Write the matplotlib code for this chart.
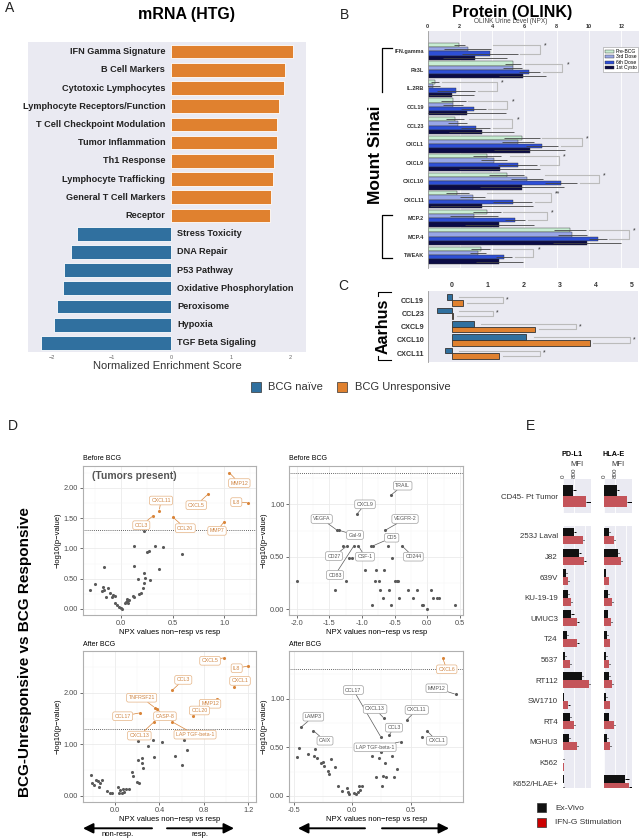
import matplotlib
matplotlib.use('Agg')
import matplotlib.pyplot as plt
from matplotlib.patches import Rectangle, ArrowStyle
from matplotlib.ticker import AutoMinorLocator, FormatStrFormatter
import numpy as np

plt.rcParams['font.family'] = ['Liberation Sans', 'DejaVu Sans']
plt.rcParams['axes.unicode_minus'] = True

# ---------------- DATA ----------------
# Panel A
A_terms = ['IFN Gamma Signature', 'B Cell Markers', 'Cytotoxic Lymphocytes',
           'Lymphocyte Receptors/Function', 'T Cell Checkpoint Modulation',
           'Tumor Inflammation', 'Th1 Response', 'Lymphocyte Trafficking',
           'General T Cell Markers', 'Receptor', 'Stress Toxicity', 'DNA Repair',
           'P53 Pathway', 'Oxidative Phosphorylation', 'Peroxisome', 'Hypoxia',
           'TGF Beta Sigaling']
A_nes = [2.05, 1.91, 1.89, 1.81, 1.78, 1.78, 1.73, 1.71, 1.68, 1.66,
         -1.58, -1.68, -1.79, -1.82, -1.92, -1.97, -2.18]

# Panel B
B_cats = ['IFN.gamma', 'Flt3L', 'IL.2RB', 'CCL19', 'CCL23', 'CXCL1', 'CXCL9',
          'CXCL10', 'CXCL11', 'MCP.2', 'MCP.4', 'TWEAK']
B_pre = [1.97, 5.32, 0.48, 1.61, 1.68, 5.84, 3.66, 4.91, 1.84, 3.66, 8.82, 3.29]
B_d3 = [2.48, 5.28, 0.35, 1.59, 1.86, 5.59, 4.14, 6.15, 2.80, 2.88, 8.96, 3.15]
B_d6 = [3.87, 6.31, 1.76, 2.86, 2.98, 7.10, 5.59, 8.28, 5.28, 5.42, 10.56, 4.74]
B_cy = [2.94, 5.90, 1.51, 2.44, 3.35, 6.34, 4.47, 5.86, 3.35, 4.45, 9.88, 4.45]
B_pre_err = [0.35, 0.5, 0.25, 0.77, 0.55, 1.1, 0.87, 1.07, 0.7, 0.87, 1.0, 0.6]
B_d3_err = [1.43, 0.6, 0.4, 0.6, 0.56, 1.0, 0.8, 1.0, 0.76, 1.5, 0.9, 0.5]
B_d6_err = [1.72, 0.67, 1.2, 0.76, 0.9, 1.0, 1.2, 1.0, 1.2, 0.63, 0.56, 0.5]
B_cy_err = [1.97, 1.45, 1.4, 2.4, 2.0, 2.2, 2.5, 2.6, 3.2, 2.15, 2.1, 1.45]
B_sig_x = [6.94, 8.36, 4.29, 4.95, 5.26, 9.54, 8.14, 10.62, 7.62, 7.39, 12.46, 6.56]
B_sig = ['*', '*', '*', '*', '*', '*', '*', '*', '**', '*', '*', '*']
B_series = ['Pre-BCG', '3rd Dose', '6th Dose', '1st Cysto']

# Panel C
C_cats = ['CCL19', 'CCL23', 'CXCL9', 'CXCL10', 'CXCL11']
C_naive = [-0.14, -0.42, 0.60, 2.07, -0.20]
C_unresp = [0.32, 0.03, 2.32, 3.83, 1.32]
C_sig_x = [1.43, 1.14, 3.44, 4.94, 2.44]

# Panel D1 (before BCG, tumors present)
D1_gx = [-0.293, -0.248, -0.158, -0.183, -0.161, -0.168, -0.142, -0.12, -0.103, -0.071,
         -0.055, -0.081, -0.055, -0.033, -0.013, 0.0, 0.01, 0.041, 0.051, 0.064, 0.073,
         0.116, 0.128, 0.179, 0.193, 0.218, 0.228, 0.237, 0.17, 0.225, 0.128, 0.283,
         0.257, 0.276, 0.128, 0.331, 0.411, 0.372, 0.588, 0.225, 0.06, 0.085]
D1_gy = [0.314, 0.408, 0.689, 0.298, 0.314, 0.369, 0.198, 0.352, 0.26, 0.231, 0.215,
         0.198, 0.104, 0.071, 0.038, 0.011, 0.0, 0.094, 0.121, 0.137, 0.104, 0.215, 0.193,
         0.243, 0.27, 0.342, 0.435, 0.507, 0.491, 0.6, 0.716, 0.479, 0.947, 0.964, 1.041,
         1.046, 1.02, 0.666, 0.909, 1.289, 0.17, 0.15]
D1_names = ['MMP12', 'IL8', 'CXCL5', 'CXCL11', 'CCL3', 'CCL20', 'MMP7']
D1_x = [1.047, 1.23, 0.842, 0.372, 0.315, 0.507, 0.999]
D1_y = [2.25, 1.757, 1.895, 1.625, 1.54, 1.51, 1.443]

# Panel D2 (before BCG)
D2_gx = [-1.991, -1.413, -1.245, -1.194, -1.158, -1.286, -0.862, -0.606, -0.545,
         -0.954, -0.786, -0.658, -0.801, -0.745, -0.495, -0.469, -0.444, -0.724, -0.582,
         -0.291, -0.153, 0.052, -0.674, -0.433, -0.214, 0.092, 0.144, 0.184, -0.842,
         -0.561, -0.086, -0.061, 0.0, 0.424]
D2_gy = [0.27, 0.181, 0.27, 0.484, 0.484, 0.605, 0.605, 0.605, 0.484, 0.372, 0.372,
         0.372, 0.27, 0.27, 0.27, 0.27, 0.27, 0.181, 0.181, 0.181, 0.181, 0.181, 0.108,
         0.108, 0.108, 0.108, 0.108, 0.108, 0.035, 0.035, 0.035, 0.035, 0.003, 0.035]
D2_names = ['TRAIL', 'CXCL9', 'VEGFA', 'Gal-9', 'VEGFR-2', 'CD5', 'CD27', 'CSF-1',
            'CD83', 'CD244']
D2_x = [-0.556, -1.081, -1.378, -1.348, -0.648, -0.827, -1.225, -1.057, -1.123, -0.392]
D2_y = [1.089, 0.904, 0.751, 0.751, 0.751, 0.605, 0.605, 0.605, 0.605, 0.605]

# Panel D3 (after BCG)
D3_gx = [-0.219, -0.21, -0.186, -0.171, -0.15, -0.135, -0.141, -0.12, -0.075, -0.045,
         -0.03, 0.03, 0.045, 0.039, 0.06, 0.069, 0.081, 0.099, 0.123, 0.15, 0.165, 0.201,
         0.219, 0.21, 0.24, 0.24, 0.249, 0.21, 0.3, 0.34, 0.351, 0.426, 0.541, 0.601,
         0.624, 0.651]
D3_gy = [0.403, 0.26, 0.208, 0.312, 0.299, 0.247, 0.17, 0.312, 0.097, 0.052, 0.065,
         0.182, 0.117, 0.065, 0.052, 0.13, 0.084, 0.13, 0.13, 0.474, 0.39, 0.279, 0.26,
         0.702, 0.735, 0.637, 0.54, 1.058, 0.975, 1.078, 0.754, 1.039, 0.766, 0.604,
         1.092, 0.883]
D3_names = ['CXCL5', 'IL8', 'CXCL1', 'CCL3', 'TNFRSF21', 'MMP12', 'CCL20', 'CCL17',
            'CASP-8', 'CXCL13', 'LAP TGF-beta-1']
D3_x = [0.982, 1.201, 1.072, 0.516, 0.36, 0.922, 0.706, 0.225, 0.375, 0.351, 0.516]
D3_y = [2.68, 2.52, 2.118, 2.05, 1.71, 1.885, 1.546, 1.612, 1.69, 1.436, 1.436]

# Panel D4 (after BCG)
D4_gx = [-0.471, -0.457, -0.377, -0.32, -0.326, -0.3, -0.268, -0.254, -0.242, -0.205,
         -0.2, -0.185, -0.148, -0.125, -0.086, -0.043, -0.04, -0.026, 0.017, 0.032, 0.046,
         0.066, 0.06, 0.086, 0.171, 0.2, 0.231, 0.243, 0.257, 0.266, 0.28, 0.289, 0.338,
         0.36, 0.386, 0.595]
D4_gy = [0.398, 0.49, 0.432, 0.48, 0.411, 0.387, 0.336, 0.353, 0.308, 0.26, 0.226,
         0.377, 0.301, 0.106, 0.051, 0.079, 0.044, 0.021, 0.034, 0.021, 0.044, 0.062,
         0.106, 0.106, 0.414, 0.192, 0.394, 0.449, 0.106, 0.209, 0.336, 0.199, 0.414,
         0.192, 0.274, 0.603]
D4_names = ['CXCL6', 'MMP12', 'CCL17', 'CXCL13', 'CCL3', 'CXCL11', 'LAMP3', 'CAIX',
            'LAP TGF-beta-1', 'CXCL1']
D4_x = [0.775, 0.886, 0.246, 0.272, 0.317, 0.466, -0.44, -0.334, 0.415, 0.638]
D4_y = [1.415, 1.045, 0.603, 0.798, 0.627, 0.781, 0.706, 0.671, 0.558, 0.671]
D4_sig = [True, False, False, False, False, False, False, False, False, False]

# Panel E
E_cells = ['253J Laval', 'J82', '639V', 'KU-19-19', 'UMUC3', 'T24', '5637', 'RT112',
           'SW1710', 'RT4', 'MGHU3', 'K562', 'K652/HLAE+']
E_pdl1_ex = [800, 1190, 220, 340, 580, 315, 145, 1355, 50, 510, 460, 25, 50]
E_pdl1_ifn = [1430, 1525, 390, 580, 1040, 1040, 510, 1890, 390, 820, 990, 50, 25]
E_hlae_ex = [340, 990, 120, 290, 265, 220, 170, 340, 170, 340, 220, 25, 1550]
E_hlae_ifn = [700, 1235, 340, 580, 530, 410, 390, 605, 410, 700, 460, 25, 1840]
E_pdl1_ex_err = [110, 130, 60, 70, 240, 80, 50, 120, 30, 80, 80, 15, 15]
E_pdl1_ifn_err = [120, 120, 70, 90, 130, 100, 80, 100, 100, 80, 90, 20, 15]
E_hlae_ex_err = [80, 110, 40, 60, 60, 50, 40, 90, 50, 60, 50, 10, 250]
E_hlae_ifn_err = [90, 100, 50, 80, 80, 60, 50, 80, 50, 80, 60, 10, 250]
E_tumor = 'CD45- Pt Tumor'
E_tumor_pdl1 = [700, 1650]
E_tumor_pdl1_err = [240, 380]
E_tumor_hlae = [945, 1670]
E_tumor_hlae_err = [150, 350]

# ---------------- LAYOUT / STYLE ----------------
W, H = 640, 839
fig = plt.figure(figsize=(W / 100, H / 100), dpi=100)
ORANGE = '#E0812F'
BLUE = '#30709F'
BG = '#EAEAF2'


def ax_px(l, t, r, b):
    return fig.add_axes([l / W, 1 - b / H, (r - l) / W, (b - t) / H])


ov = fig.add_axes([0, 0, 1, 1], zorder=50)
ov.set_xlim(0, W)
ov.set_ylim(H, 0)
ov.axis('off')
ov.patch.set_alpha(0)

# ---------------- Panel A ----------------
axA = ax_px(28, 42, 306, 352)
axA.set_facecolor(BG)
yA = np.arange(len(A_terms))
axA.barh(yA, A_nes, height=0.75, color=[ORANGE if v > 0 else BLUE for v in A_nes],
         edgecolor='white', linewidth=0.6, zorder=2)
for i, (t, v) in enumerate(zip(A_terms, A_nes)):
    if v > 0:
        axA.text(-0.1, i, t, ha='right', va='center', fontsize=6.6, fontweight='bold', color='#222')
    else:
        axA.text(0.1, i, t, ha='left', va='center', fontsize=6.6, fontweight='bold', color='#222')
axA.set_xlim(-2.40, 2.26)
axA.set_ylim(16.5, -0.53)
axA.set_yticks([])
axA.set_xticks([-2, -1, 0, 1, 2])
axA.tick_params(axis='x', labelsize=4, colors='#666', length=0, pad=2)
for s in axA.spines.values():
    s.set_visible(False)
ov.text(167, 366, 'Normalized Enrichment Score', fontsize=8, ha='center', va='center', color='#333')
ov.text(187, 15, 'mRNA (HTG)', fontsize=11.5, fontweight='bold', ha='center', va='center')

ov.add_patch(Rectangle((251, 382), 9.5, 10, fc=BLUE, ec='#333', lw=0.5))
ov.text(268, 387, 'BCG naïve', fontsize=8, va='center', ha='left', color='#333')
ov.add_patch(Rectangle((337, 382), 9.5, 10, fc=ORANGE, ec='#333', lw=0.5))
ov.text(355, 387, 'BCG Unresponsive', fontsize=8, va='center', ha='left', color='#333')

# ---------------- Panel B ----------------
axB = ax_px(427.5, 31, 639, 268)
axB.set_facecolor(BG)
yB = np.arange(len(B_cats))
h = 0.23
offs = [-1.5, -0.5, 0.5, 1.5]
colsB = ['#C8EDD3', '#98A6E6', '#2E4FD6', '#0B0B45']
valsB = [B_pre, B_d3, B_d6, B_cy]
errsB = [B_pre_err, B_d3_err, B_d6_err, B_cy_err]
for k in range(4):
    axB.barh(yB + offs[k] * h, valsB[k], height=h, color=colsB[k], edgecolor='#333',
             linewidth=0.3, label=B_series[k], zorder=2, xerr=errsB[k],
             error_kw=dict(ecolor='#444', elinewidth=0.6, capsize=0, zorder=3))
for i in range(len(B_cats)):
    yt = i - 1.5 * h
    yb = i + 0.5 * h
    xs_t = max(B_pre[i] + B_pre_err[i], B_d3[i] + B_d3_err[i]) + 0.15
    xs_b = B_d6[i] + B_d6_err[i] + 0.15
    xe = B_sig_x[i]
    axB.plot([xs_t, xe, xe, xs_b], [yt, yt, yb, yb], color='#BBBBBB', lw=0.8, zorder=2.5)
    axB.text(xe + 0.25, yt + 0.05, B_sig[i], fontsize=5, ha='left', va='center', color='#333')
axB.set_xlim(0, 13.1)
axB.set_ylim(11.69, -1.1)
axB.set_yticks(yB)
axB.set_yticklabels(B_cats, fontsize=4, fontweight='bold', color='#333')
axB.xaxis.tick_top()
axB.set_xticks(range(0, 13, 2))
for lab in axB.get_xticklabels():
    lab.set_fontweight('bold')
axB.tick_params(axis='x', labelsize=4, colors='#333', length=0, pad=1.5)
axB.tick_params(axis='y', length=0, pad=2.5)
axB.grid(axis='x', color='white', lw=0.6)
axB.set_axisbelow(True)
for k, s in axB.spines.items():
    s.set_visible(k == 'left')
axB.spines['left'].set_color('#999')
axB.spines['left'].set_linewidth(0.6)
leg = axB.legend(loc='upper right', bbox_to_anchor=(1.0, 0.935), fontsize=3.6, frameon=True,
                 fancybox=False, edgecolor='#999', framealpha=1, handlelength=1.8,
                 handleheight=0.6, borderpad=0.3, labelspacing=0.1, handletextpad=0.4,
                 borderaxespad=0.2)
leg.get_frame().set_linewidth(0.4)
ov.text(511, 21.7, 'OLINK Urine Level (NPX)', fontsize=4.7, ha='center', va='center', color='#444')
ov.text(512, 12, 'Protein (OLINK)', fontsize=11.5, fontweight='bold', ha='center', va='center')
ov.text(375, 155, 'Mount Sinai', rotation=90, fontsize=12.5, fontweight='bold', ha='center', va='center')
ov.plot([392, 382, 382], [48, 48, 92], color='k', lw=0.9)
ov.plot([392, 382, 382, 392], [215, 215, 258, 258], color='k', lw=0.9)

# ---------------- Panel C ----------------
axC = ax_px(427.5, 290.7, 638, 361.7)
axC.set_facecolor(BG)
yC = np.arange(len(C_cats))
axC.barh(yC - 0.21, C_naive, height=0.42, color=BLUE, edgecolor='#333', linewidth=0.6, zorder=2)
axC.barh(yC + 0.21, C_unresp, height=0.42, color=ORANGE, edgecolor='#333', linewidth=0.6, zorder=2)
for i in range(len(C_cats)):
    yt, yb = i - 0.21, i + 0.21
    xs_t = max(C_naive[i], 0) + 0.2
    xs_b = max(C_unresp[i], 0) + 0.1
    xe = C_sig_x[i]
    axC.plot([xs_t, xe, xe, xs_b], [yt, yt, yb, yb], color='#BBBBBB', lw=0.8, zorder=2.5)
    axC.text(xe + 0.08, i, '*', fontsize=5, ha='left', va='center', color='#333')
axC.set_xlim(-0.68, 5.17)
axC.set_ylim(4.63, -0.70)
axC.set_yticks(yC)
axC.set_yticklabels(C_cats, fontsize=5.2, fontweight='bold', color='#333')
axC.xaxis.tick_top()
axC.set_xticks(range(0, 6))
for lab in axC.get_xticklabels():
    lab.set_fontweight('bold')
axC.tick_params(axis='x', labelsize=5, colors='#333', length=0, pad=1.5)
axC.tick_params(axis='y', length=0, pad=2.5)
for k, s in axC.spines.items():
    s.set_visible(k == 'left')
axC.spines['left'].set_color('#999')
axC.spines['left'].set_linewidth(0.6)
ov.text(383, 326.7, 'Aarhus', rotation=90, fontsize=11.5, fontweight='bold', ha='center', va='center')
ov.plot([378, 378, 391], [296, 292, 292], color='k', lw=0.8)
ov.plot([378, 378, 391], [356, 360, 360], color='k', lw=0.8)

# ---------------- Panel D ----------------
GRAY_PT = '#5A5A5A'
OR_PT = '#D9853A'
OR_TXT = '#CF8543'
OR_EDGE = '#E5B384'


def gg_axes(ax, xlim, ylim, xt, yt, xfmt, yfmt):
    ax.set_facecolor('white')
    ax.set_xlim(*xlim)
    ax.set_ylim(*ylim)
    ax.set_xticks(xt)
    ax.set_yticks(yt)
    ax.xaxis.set_major_formatter(FormatStrFormatter(xfmt))
    ax.yaxis.set_major_formatter(FormatStrFormatter(yfmt))
    ax.xaxis.set_minor_locator(AutoMinorLocator(2))
    ax.yaxis.set_minor_locator(AutoMinorLocator(2))
    ax.grid(which='major', color='#EBEBEB', lw=0.6, zorder=0)
    ax.grid(which='minor', color='#F5F5F5', lw=0.35, zorder=0)
    ax.set_axisbelow(True)
    ax.tick_params(which='major', labelsize=5.3, labelcolor='#4D4D4D', length=2,
                   width=0.5, color='#333', pad=1.5)
    ax.tick_params(which='minor', length=0)
    for s in ax.spines.values():
        s.set_color('#B0B0B0')
        s.set_linewidth(0.8)
    ax.axhline(1.30103, color='#333', ls=(0, (1, 1.5)), lw=0.6, zorder=2)
    ax.set_xlabel('NPX values non\u2212resp vs resp', fontsize=5.5, labelpad=1.5)
    ax.set_ylabel('\u2212log10(p\u2212value)', fontsize=5.5, labelpad=1.5)


def labelled(ax, names, xs, ys, pos, sig):
    for n, x, y, (lx, ly), s in zip(names, xs, ys, pos, sig):
        pc = OR_PT if s else GRAY_PT
        tc = OR_TXT if s else '#555555'
        ec = OR_EDGE if s else '#A0A0A0'
        ax.scatter([x], [y], s=5, color=pc, zorder=3, linewidths=0)
        ax.annotate(n, xy=(x, y), xytext=(lx, ly), fontsize=3.8, color=tc, ha='center',
                    va='center', zorder=4,
                    bbox=dict(boxstyle='round,pad=0.35', fc='white', ec=ec, lw=0.5),
                    arrowprops=dict(arrowstyle='-', color=pc, lw=0.5, shrinkA=0, shrinkB=1))


# D1
axD1 = ax_px(82.7, 466, 256, 615)
gg_axes(axD1, (-0.366, 1.305), (-0.1, 2.36), [0, 0.5, 1.0], [0, 0.5, 1.0, 1.5, 2.0], '%.1f', '%.2f')
axD1.scatter(D1_gx, D1_gy, s=5, color=GRAY_PT, zorder=3, linewidths=0)
D1_pos = [(1.144, 2.078), (1.115, 1.764), (0.729, 1.714), (0.389, 1.79), (0.199, 1.383),
          (0.623, 1.334), (0.929, 1.289)]
labelled(axD1, D1_names, D1_x, D1_y, D1_pos, [True] * len(D1_names))

# D2
axD2 = ax_px(289.3, 466, 463.3, 615)
gg_axes(axD2, (-2.113, 0.551), (-0.057, 1.366), [-2.0, -1.5, -1.0, -0.5, 0.0, 0.5],
        [0, 0.5, 1.0], '%.1f', '%.2f')
axD2.scatter(D2_gx, D2_gy, s=5, color=GRAY_PT, zorder=3, linewidths=0)
D2_pos = [(-0.377, 1.178), (-0.954, 1.0), (-1.617, 0.86), (-1.107, 0.707), (-0.341, 0.86),
          (-0.545, 0.681), (-1.429, 0.506), (-0.954, 0.5), (-1.413, 0.325), (-0.214, 0.5)]
labelled(axD2, D2_names, D2_x, D2_y, D2_pos, [False] * len(D2_names))

# D3
axD3 = ax_px(82.7, 651, 256, 801.7)
gg_axes(axD3, (-0.291, 1.27), (-0.111, 2.81), [0, 0.4, 0.8, 1.2], [0, 1, 2], '%.1f', '%.2f')
axD3.scatter(D3_gx, D3_gy, s=5, color=GRAY_PT, zorder=3, linewidths=0)
D3_pos = [(0.856, 2.62), (1.096, 2.476), (1.126, 2.23), (0.615, 2.25), (0.24, 1.904),
          (0.856, 1.787), (0.76, 1.657), (0.069, 1.546), (0.45, 1.546), (0.219, 1.17),
          (0.721, 1.189)]
labelled(axD3, D3_names, D3_x, D3_y, D3_pos, [True] * len(D3_names))

# D4
axD4 = ax_px(289.3, 651, 463.3, 801.7)
gg_axes(axD4, (-0.54, 0.951), (-0.059, 1.49), [-0.5, 0.0, 0.5], [0, 0.5, 1.0], '%.1f', '%.2f')
axD4.scatter(D4_gx, D4_gy, s=5, color=GRAY_PT, zorder=3, linewidths=0)
D4_pos = [(0.809, 1.302), (0.723, 1.107), (0.009, 1.089), (0.195, 0.894), (0.357, 0.702),
          (0.552, 0.884), (-0.334, 0.815), (-0.234, 0.568), (0.195, 0.5), (0.723, 0.568)]
labelled(axD4, D4_names, D4_x, D4_y, D4_pos, D4_sig)

ov.text(82.7, 458.5, 'Before BCG', fontsize=5, ha='left', va='center')
ov.text(289.3, 458.5, 'Before BCG', fontsize=5, ha='left', va='center')
ov.text(82.7, 644.3, 'After BCG', fontsize=5, ha='left', va='center')
ov.text(289.3, 644.3, 'After BCG', fontsize=5, ha='left', va='center')
ov.text(91.7, 476, '(Tumors present)', fontsize=7.5, fontweight='bold', color='#555', ha='left', va='center')
ov.text(25, 652, 'BCG-Unresponsive vs BCG Responsive', rotation=90, fontsize=11,
        fontweight='bold', ha='center', va='center')

arr = ArrowStyle('-|>', head_length=0.6, head_width=0.3)
for x0, x1 in [(152, 83), (167, 234), (365, 298), (382, 449)]:
    ov.annotate('', xy=(x1, 828.3), xytext=(x0, 828.3),
                arrowprops=dict(arrowstyle=arr, lw=1.4, color='k', mutation_scale=10,
                                shrinkA=0, shrinkB=0))
ov.text(118, 835, 'non-resp.', fontsize=5.5, ha='center', va='center')
ov.text(200, 835, 'resp.', fontsize=5.5, ha='center', va='center')

# ---------------- Panel E ----------------
E_BLACK = '#111111'
E_RED = '#C4545A'


def e_axes(ax, xlim, top):
    ax.set_facecolor(BG)
    ax.set_xlim(*xlim)
    for s in ax.spines.values():
        s.set_visible(False)
    ax.set_xticks([0, 800, 1600])
    ax.grid(axis='x', color='white', lw=0.6)
    ax.set_axisbelow(True)
    if top:
        ax.xaxis.tick_top()
        ax.set_xticks([0, 800])
        ax.set_xticklabels(['0', '800'], rotation=90, fontsize=4.5, color='#333')
        ax.tick_params(axis='x', length=0, pad=1)
    else:
        ax.tick_params(axis='x', length=0, labelbottom=False)
    ax.tick_params(axis='y', length=0, pad=3.4, labelsize=5.7, labelcolor='#333')


ekw = dict(ecolor='black', elinewidth=0.7, capsize=0)
xl_p = (-22, 2036)
xl_h = (-36, 2014)
axE1 = ax_px(562.7, 479, 591, 513.3)
axE2 = ax_px(603.5, 479, 631.7, 513.3)
axE3 = ax_px(562.7, 526, 591, 788.3)
axE4 = ax_px(603.5, 526, 631.7, 788.3)

for ax, vals, errs, xl in [(axE1, E_tumor_pdl1, E_tumor_pdl1_err, xl_p),
                           (axE2, E_tumor_hlae, E_tumor_hlae_err, xl_h)]:
    e_axes(ax, xl, True)
    ax.barh([-0.17], [vals[0]], height=0.32, color=E_BLACK, xerr=[[0], [errs[0]]], error_kw=ekw, zorder=2)
    ax.barh([0.17], [vals[1]], height=0.32, color=E_RED, xerr=[[0], [errs[1]]], error_kw=ekw, zorder=2)
    ax.set_ylim(0.5, -0.5)
    ax.set_yticks([0])
    ax.set_yticklabels([E_tumor] if ax is axE1 else [''])

yE = np.arange(len(E_cells))
for ax, ex, ifn, exe, ifne, xl in [(axE3, E_pdl1_ex, E_pdl1_ifn, E_pdl1_ex_err, E_pdl1_ifn_err, xl_p),
                                   (axE4, E_hlae_ex, E_hlae_ifn, E_hlae_ex_err, E_hlae_ifn_err, xl_h)]:
    e_axes(ax, xl, False)
    ax.barh(yE - 0.195, ex, height=0.39, color=E_BLACK,
            xerr=[np.zeros(len(ex)), exe], error_kw=ekw, zorder=2)
    ax.barh(yE + 0.195, ifn, height=0.39, color=E_RED,
            xerr=[np.zeros(len(ifn)), ifne], error_kw=ekw, zorder=2)
    ax.set_ylim(12.25, -0.485)
    ax.set_yticks(yE)
    ax.set_yticklabels(E_cells if ax is axE3 else [''] * len(E_cells))

ov.text(571.7, 455, 'PD-L1', fontsize=5.2, fontweight='bold', ha='center', va='center')
ov.text(614, 455, 'HLA-E', fontsize=5.2, fontweight='bold', ha='center', va='center')
ov.text(576.8, 464, 'MFI', fontsize=5.5, ha='center', va='center', color='#333')
ov.text(617.6, 464, 'MFI', fontsize=5.5, ha='center', va='center', color='#333')
ov.add_patch(Rectangle((537.3, 803.3), 8.7, 9, fc='#111111', ec='#333', lw=0.5))
ov.add_patch(Rectangle((537.3, 818), 8.7, 9, fc='#CC0000', ec='#333', lw=0.5))
ov.text(555, 808, 'Ex-Vivo', fontsize=6, ha='left', va='center', color='#333')
ov.text(555, 822.5, 'IFN-G Stimulation', fontsize=6, ha='left', va='center', color='#333')

# panel letters
for x, y, s in [(5, 8, 'A'), (340, 15, 'B'), (338, 286, 'C'), (8, 426, 'D'), (526, 426, 'E')]:
    ov.text(x, y, s, fontsize=10, ha='left', va='center', color='#222')

fig.savefig('out.png', dpi=100)
